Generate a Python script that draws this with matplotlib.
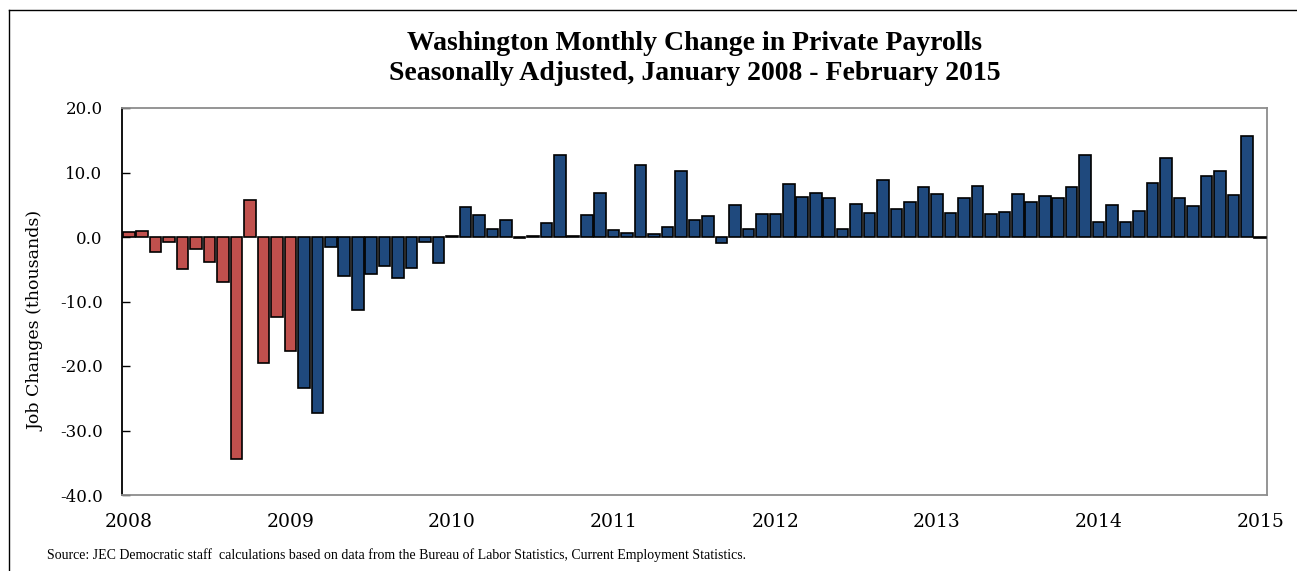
"""Washington monthly change in private payrolls, Jan 2008 - Feb 2015."""

import matplotlib

matplotlib.use("Agg")
import matplotlib.pyplot as plt
from matplotlib.lines import Line2D

# monthly change, thousands
jobs_2008 = [0.8, 0.9, -2.3, -0.8, -5.0, -1.8, -3.9, -6.9, -34.4, 5.8, -19.5, -12.4]
jobs_2009 = [-17.7, -23.4, -27.3, -1.6, -6.0, -11.3, -5.7, -4.5, -6.3, -4.8, -0.7, -4.0]
jobs_2010 = [0.2, 4.7, 3.4, 1.2, 2.6, -0.1, 0.1, 2.1, 12.7, 0.1, 3.4, 6.8]
jobs_2011 = [1.1, 0.6, 11.2, 0.4, 1.6, 10.3, 2.6, 3.3, -1.0, 5.0, 1.2, 3.6]
jobs_2012 = [3.6, 8.2, 6.2, 6.8, 6.1, 1.2, 5.1, 3.7, 8.9, 4.4, 5.5, 7.7]
jobs_2013 = [6.6, 3.7, 6.1, 7.9, 3.5, 3.9, 6.6, 5.5, 6.3, 6.1, 7.7, 12.7]
jobs_2014 = [2.3, 4.9, 2.3, 4.1, 8.4, 12.3, 6.1, 4.8, 9.5, 10.2, 6.5, 15.6]
jobs_2015 = [-0.2]

years = ["2008", "2009", "2010", "2011", "2012", "2013", "2014", "2015"]
n_red = 13  # Jan 2008 - Jan 2009

RED = "#C0504D"
BLUE = "#1F497D"
SERIF = "DejaVu Serif"

values = jobs_2008 + jobs_2009 + jobs_2010 + jobs_2011 + jobs_2012 + jobs_2013 + jobs_2014 + jobs_2015
x = list(range(len(values)))
colors = [RED if i < n_red else BLUE for i in x]

fig = plt.figure(figsize=(12.97, 5.71), dpi=100)
ax = fig.add_axes([122 / 1297, 76 / 571, 1145 / 1297, 387 / 571])

ax.bar(x, values, width=0.86, color=colors, edgecolor="black", linewidth=1.2, zorder=3)

ax.set_xlim(-0.5, len(values) - 0.5)
ax.set_ylim(-40, 20)
ax.set_yticks(range(-40, 21, 10))
ax.set_yticklabels([f"{v:.1f}" for v in range(-40, 21, 10)], family=SERIF, fontsize=12)
ax.tick_params(axis="y", direction="in", length=6, width=1, pad=14)
ax.set_xticks([12 * i for i in range(len(years))])
ax.set_xticklabels(years, family=SERIF, fontsize=13.5)
ax.tick_params(axis="x", length=0, pad=13)

for side in ("top", "right", "bottom"):
    ax.spines[side].set_color("#8c8c8c")
    ax.spines[side].set_linewidth(1.3)
ax.spines["left"].set_color("black")
ax.spines["left"].set_linewidth(1.3)

fig.text(36 / 1297, 1 - 321 / 571, "Job Changes (thousands)", rotation=90,
         ha="center", va="center", family=SERIF, fontsize=12.5)

title_x = (122 + 1145 / 2) / 1297
fig.text(title_x, 1 - 43 / 571, "Washington Monthly Change in Private Payrolls",
         ha="center", va="center", family="Liberation Serif", weight="bold", fontsize=20)
fig.text(title_x, 1 - 73 / 571, "Seasonally Adjusted, January 2008 - February 2015",
         ha="center", va="center", family="Liberation Serif", weight="bold", fontsize=20)

fig.text(47 / 1297, 1 - 555 / 571,
         "Source: JEC Democratic staff  calculations based on data from the Bureau of Labor "
         "Statistics, Current Employment Statistics.",
         ha="left", va="center", family="Liberation Serif", fontsize=10)

# outer frame (cropped on the right and bottom)
fig.add_artist(Line2D([8.5 / 1297, 8.5 / 1297], [0, 1 - 10 / 571], color="black", lw=1))
fig.add_artist(Line2D([8.5 / 1297, 1], [1 - 10 / 571, 1 - 10 / 571], color="black", lw=1))

fig.savefig("out.png", dpi=100)
